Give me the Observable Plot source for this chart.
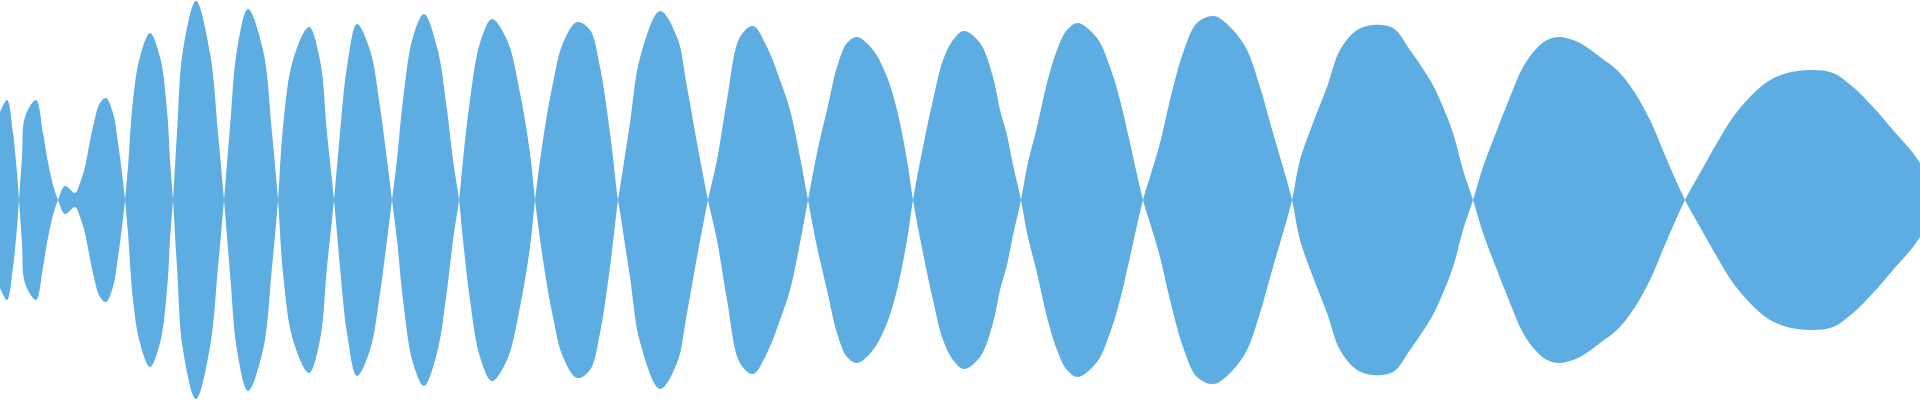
<!DOCTYPE html>
<html>
<head>
<meta charset="utf-8">
<script src="https://cdn.jsdelivr.net/npm/d3@7"></script>
<script src="https://cdn.jsdelivr.net/npm/@observablehq/plot@0.6"></script>
<style>
  html, body { margin: 0; padding: 0; background: #ffffff; }
  #chart svg { display: block; }
</style>
</head>
<body>
<div id="chart"></div>
<script>
// Sample positions along the waveform
const positions = [
  0, 7, 13, 17, 19,
  22, 25, 36, 43, 47, 50, 53, 58,
  65, 75, 80, 85, 87, 93, 100, 106, 113, 118, 122, 125,
  128, 133, 140, 150, 160, 167, 170, 173,
  177, 183, 196, 210, 218, 224,
  230, 237, 248, 263, 272, 278,
  283, 293, 309, 320, 327, 334,
  340, 347, 357, 370, 380, 387, 392,
  397, 403, 413, 424, 437, 447, 453, 459,
  463, 470, 480, 492, 507, 520, 530, 535,
  543, 553, 563, 577, 590, 600, 610, 618,
  620, 630, 640, 660, 677, 687, 697, 708,
  717, 727, 740, 753, 767, 780, 790, 800, 808,
  817, 827, 837, 847, 857, 873, 887, 897, 907, 913,
  923, 933, 943, 953, 964, 980, 993, 1000, 1007, 1013, 1021,
  1027, 1037, 1047, 1057, 1067, 1078, 1097, 1110, 1120, 1130, 1143,
  1150, 1160, 1170, 1183, 1197, 1214, 1233, 1247, 1260, 1273, 1283, 1292,
  1300, 1313, 1327, 1340, 1357, 1373, 1393, 1410, 1430, 1440, 1453, 1463, 1473,
  1483, 1497, 1510, 1523, 1537, 1547, 1560, 1580, 1600, 1617, 1633, 1650, 1667, 1685,
  1700, 1717, 1733, 1750, 1767, 1787, 1812, 1833, 1853, 1873, 1893, 1913, 1920
];
// Signed signal amplitude at each position
const amplitudes = [
  88, 100, 67, 27, 0,
  -43, -83, -100, -67, -43, -28, -15, 0,
  14, 7, 17, 33, 43, 73, 97, 102, 87, 57, 27, 0,
  -33, -100, -143, -167, -143, -90, -40, 0,
  67, 150, 199, 147, 67, 0,
  -73, -150, -191, -150, -67, 0,
  73, 140, 173, 140, 67, 0,
  -67, -133, -176, -150, -93, -40, 0,
  40, 100, 163, 186, 153, 90, 40, 0,
  -40, -100, -157, -181, -160, -107, -47, 0,
  60, 117, 157, 178, 170, 133, 67, 0,
  -12, -77, -142, -189, -163, -113, -57, 0,
  40, 100, 163, 174, 153, 120, 90, 43, 0,
  -47, -90, -133, -157, -163, -150, -123, -90, -40, 0,
  53, 100, 140, 160, 169, 157, 123, 90, 65, 35, 0,
  -33, -73, -117, -150, -170, -177, -162, -133, -100, -57, 0,
  23, 57, 100, 147, 177, 184, 170, 150, 113, 67, 33, 0,
  -40, -77, -113, -150, -170, -175, -172, -150, -120, -100, -67, -30, 0,
  33, 70, 103, 133, 152, 160, 163, 157, 143, 130, 110, 80, 40, 0,
  -27, -57, -83, -103, -118, -127, -130, -127, -113, -93, -70, -47, -37
];

const data = positions.map((x, i) => ({x, v: amplitudes[i]}));

const chart = Plot.plot({
  width: 1920,
  height: 400,
  margin: 0,
  x: {domain: [0, 1920], axis: null},
  y: {domain: [-200, 200], axis: null},
  marks: [
    Plot.areaY(data, {
      x: "x",
      y1: d => d.v,
      y2: d => -d.v,
      curve: "catmull-rom",
      fill: "#5DADE2"
    })
  ]
});
document.getElementById("chart").appendChild(chart);
</script>
</body>
</html>
